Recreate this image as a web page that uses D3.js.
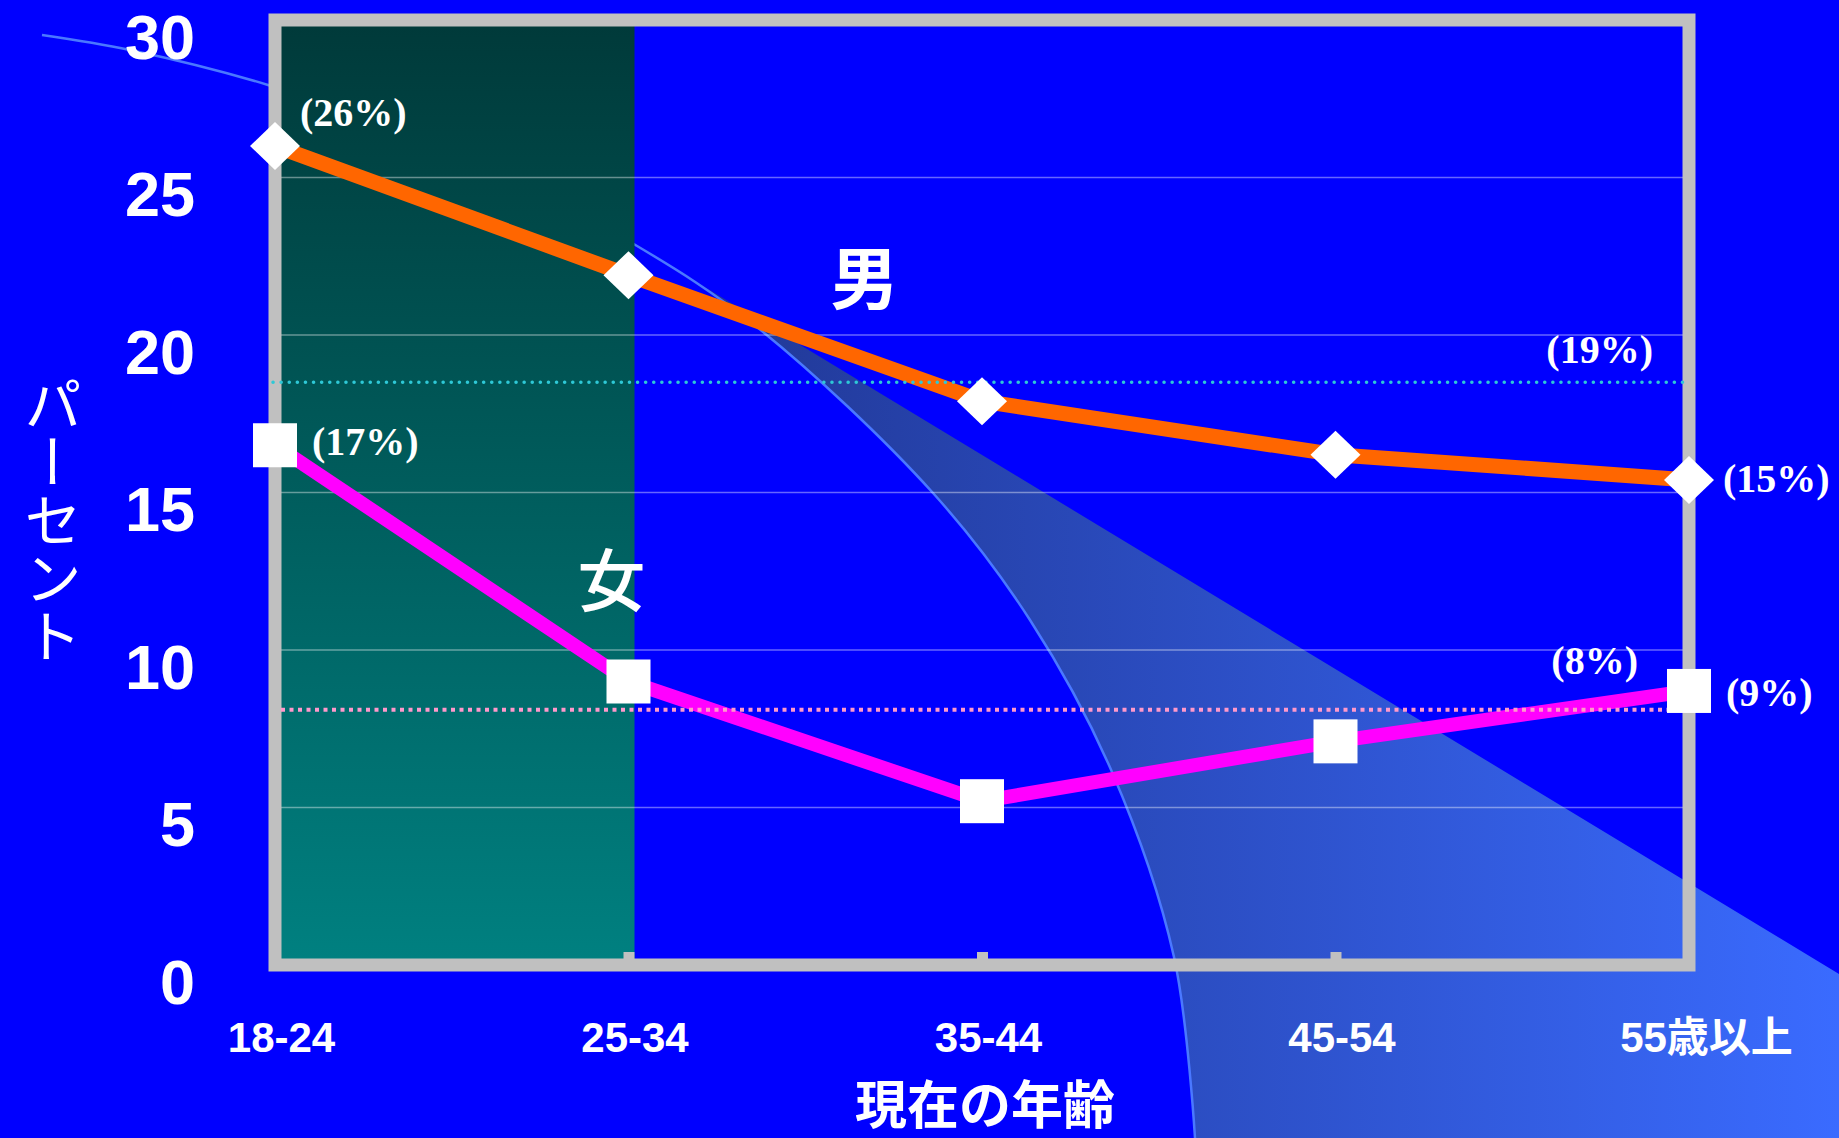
<!DOCTYPE html>
<html>
<head>
<meta charset="utf-8">
<script src="https://cdn.jsdelivr.net/npm/d3@7"></script>
<style>
    body { margin: 0; background: #0000ff; overflow: hidden; }
    svg { display: block; }
</style>
</head>
<body>
<div id="graph"></div>
<script>
var categories = ['18-24', '25-34', '35-44', '45-54', '55歳以上'];
var menValues = [26.0, 21.9, 17.9, 16.2, 15.4];
var womenValues = [16.5, 9.0, 5.2, 7.1, 8.7];
var averageValues = [18.5, 8.1];
var averageLabels = ['(19%)', '(8%)'];
var seriesNames = ['男', '女'];
var yTicks = [0, 5, 10, 15, 20, 25, 30];
var gridTicks = [5, 10, 15, 20, 25];

var width = 1839,
    height = 1138;

var svg = d3.select('#graph')
    .append('svg')
    .attr('width', width)
    .attr('height', height);

var x = d3.scalePoint()
    .domain(categories)
    .range([275, 1689]);

var y = d3.scaleLinear()
    .domain([0, 30])
    .range([965, 20]);

var last = categories.length - 1;

var defs = svg.append('defs');

var wedgeGrad = defs.append('linearGradient')
    .attr('id', 'wedgeGrad')
    .attr('x1', '0').attr('y1', '0')
    .attr('x2', '1').attr('y2', '0');
wedgeGrad.append('stop').attr('offset', '0').attr('stop-color', '#1f348e');
wedgeGrad.append('stop').attr('offset', '1').attr('stop-color', '#3a6bff');

var tealGrad = defs.append('linearGradient')
    .attr('id', 'tealGrad')
    .attr('x1', '0').attr('y1', '0')
    .attr('x2', '0').attr('y2', '1');
tealGrad.append('stop').attr('offset', '0').attr('stop-color', '#003a3a');
tealGrad.append('stop').attr('offset', '1').attr('stop-color', '#008080');

// slide background
svg.append('rect')
    .attr('width', width)
    .attr('height', height)
    .attr('fill', '#0000ff');

// background decoration: the sweeping arc and its shaded wedge
var arcTop = [[42, 35], [130, 50], [268, 85], [450, 150]];
var arcLow = [[632, 243], [757, 327], [933, 493], [1030, 620], [1112, 772], [1174, 957], [1195, 1138]];
var arcLine = d3.line().curve(d3.curveCatmullRom);

svg.append('path')
    .attr('d', arcLine(arcLow) + 'L' + width + ',' + height + 'L' + width + ',974Z')
    .attr('fill', 'url(#wedgeGrad)');

svg.append('path')
    .attr('d', arcLine(arcTop.concat(arcLow)))
    .attr('fill', 'none')
    .attr('stroke', '#4a78ff')
    .attr('stroke-width', 2.5);

// highlighted 18-24 band
svg.append('rect')
    .attr('x', x(categories[0]) + 6)
    .attr('y', y(30) + 6)
    .attr('width', x(categories[1]) - x(categories[0]))
    .attr('height', y(0) - y(30) - 12)
    .attr('fill', 'url(#tealGrad)');

// gridlines
svg.append('g')
    .selectAll('line')
    .data(gridTicks)
    .enter()
    .append('line')
    .attr('x1', x(categories[0]))
    .attr('x2', x(categories[last]))
    .attr('y1', function(d) { return y(d); })
    .attr('y2', function(d) { return y(d); })
    .attr('stroke', '#ffffff')
    .attr('stroke-opacity', 0.4)
    .attr('stroke-width', 1.5);

// plot frame
svg.append('rect')
    .attr('x', x.range()[0])
    .attr('y', y(30))
    .attr('width', x.range()[1] - x.range()[0])
    .attr('height', y(0) - y(30))
    .attr('fill', 'none')
    .attr('stroke', '#c0c0c0')
    .attr('stroke-width', 13);

// x axis
var xAxis = svg.append('g')
    .attr('transform', 'translate(0,' + y(0) + ')')
    .call(d3.axisBottom(x).tickSizeInner(-13).tickSizeOuter(0).tickPadding(57));
xAxis.select('.domain').remove();
xAxis.selectAll('line')
    .attr('stroke', '#c0c0c0')
    .attr('stroke-width', 11);
xAxis.selectAll('text')
    .attr('fill', '#ffffff')
    .attr('dx', function(d, i) { return i === last ? 17 : 6; })
    .attr('font-size', 42)
    .attr('font-weight', 'bold')
    .attr('font-family', '"Liberation Sans", "Noto Sans CJK JP", sans-serif');

// y axis
var yAxis = svg.append('g')
    .attr('transform', 'translate(' + x.range()[0] + ',0)')
    .call(d3.axisLeft(y).tickValues(yTicks).tickSize(0).tickPadding(80));
yAxis.select('.domain').remove();
yAxis.selectAll('text')
    .attr('fill', '#ffffff')
    .attr('dy', '0.61em')
    .attr('font-size', 63)
    .attr('font-weight', 'bold')
    .attr('font-family', '"Liberation Sans", sans-serif');

// axis titles
svg.append('text')
    .attr('x', (x.range()[0] + x.range()[1]) / 2 + 3)
    .attr('y', 1124)
    .attr('text-anchor', 'middle')
    .attr('fill', '#ffffff')
    .attr('font-size', 52)
    .attr('font-weight', 'bold')
    .attr('font-family', '"Noto Sans CJK JP", sans-serif')
    .text('現在の年齢');

svg.append('text')
    .attr('x', 53)
    .attr('y', 520)
    .attr('writing-mode', 'vertical-rl')
    .attr('text-anchor', 'middle')
    .attr('fill', '#ffffff')
    .attr('font-size', 58)
    .attr('font-family', '"Noto Sans CJK JP", sans-serif')
    .text('パーセント');

// series lines
var line = d3.line()
    .x(function(d, i) { return x(categories[i]); })
    .y(function(d) { return y(d); });

svg.append('path')
    .attr('d', line(menValues))
    .attr('fill', 'none')
    .attr('stroke', '#ff6600')
    .attr('stroke-width', 15)
    .attr('stroke-linejoin', 'round');

svg.append('path')
    .attr('d', line(womenValues))
    .attr('fill', 'none')
    .attr('stroke', '#ff00ff')
    .attr('stroke-width', 14)
    .attr('stroke-linejoin', 'round');

// average reference lines
svg.append('line')
    .attr('x1', x.range()[0] - 2)
    .attr('x2', x.range()[1] - 6)
    .attr('y1', y(averageValues[0]))
    .attr('y2', y(averageValues[0]))
    .attr('stroke', '#2ec8d6')
    .attr('stroke-width', 3.5)
    .attr('stroke-linecap', 'round')
    .attr('stroke-dasharray', '0.1 8');

svg.append('line')
    .attr('x1', x.range()[0] + 6)
    .attr('x2', x.range()[1] - 6)
    .attr('y1', y(averageValues[1]))
    .attr('y2', y(averageValues[1]))
    .attr('stroke', '#ff99cc')
    .attr('stroke-width', 4)
    .attr('stroke-dasharray', '4 4.5');

// markers
svg.append('g')
    .selectAll('path')
    .data(menValues)
    .enter()
    .append('path')
    .attr('d', 'M0,-24L25,0L0,24L-25,0Z')
    .attr('transform', function(d, i) {
        return 'translate(' + x(categories[i]) + ',' + y(d) + ')';
    })
    .attr('fill', '#ffffff');

svg.append('g')
    .selectAll('rect')
    .data(womenValues)
    .enter()
    .append('rect')
    .attr('x', function(d, i) { return x(categories[i]) - 22; })
    .attr('y', function(d) { return y(d) - 22; })
    .attr('width', 44)
    .attr('height', 44)
    .attr('fill', '#ffffff');

// percent labels
var pctLabels = [
    { text: '(' + Math.round(menValues[0]) + '%)', x: x(categories[0]) + 25, y: y(menValues[0]) - 20, anchor: 'start' },
    { text: '(' + Math.round(menValues[last]) + '%)', x: x(categories[last]) + 34, y: y(menValues[last]) + 12, anchor: 'start' },
    { text: '(' + Math.round(womenValues[0]) + '%)', x: x(categories[0]) + 37, y: y(womenValues[0]) + 10, anchor: 'start' },
    { text: '(' + Math.round(womenValues[last]) + '%)', x: x(categories[last]) + 37, y: y(womenValues[last]) + 15, anchor: 'start' },
    { text: averageLabels[0], x: x(categories[last]) - 36, y: y(averageValues[0]) - 19, anchor: 'end' },
    { text: averageLabels[1], x: x(categories[last]) - 51, y: y(averageValues[1]) - 36, anchor: 'end' }
];

svg.append('g')
    .selectAll('text')
    .data(pctLabels)
    .enter()
    .append('text')
    .attr('x', function(d) { return d.x; })
    .attr('y', function(d) { return d.y; })
    .attr('text-anchor', function(d) { return d.anchor; })
    .attr('fill', '#ffffff')
    .attr('font-size', 40)
    .attr('font-weight', 'bold')
    .attr('font-family', '"Liberation Serif", serif')
    .text(function(d) { return d.text; });

// series names
svg.append('text')
    .attr('x', x(categories[1]) + 236)
    .attr('y', y(21))
    .attr('text-anchor', 'middle')
    .attr('fill', '#ffffff')
    .attr('font-size', 68)
    .attr('font-weight', 'bold')
    .attr('font-family', '"Noto Sans CJK JP", sans-serif')
    .text(seriesNames[0]);

svg.append('text')
    .attr('x', x(categories[1]) - 17)
    .attr('y', y(11.4))
    .attr('text-anchor', 'middle')
    .attr('fill', '#ffffff')
    .attr('font-size', 68)
    .attr('font-weight', 500)
    .attr('font-family', '"Noto Sans CJK JP", sans-serif')
    .text(seriesNames[1]);
</script>
</body>
</html>
